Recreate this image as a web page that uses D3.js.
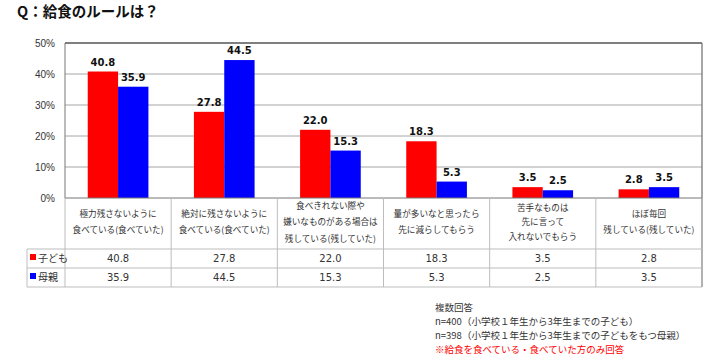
<!DOCTYPE html>
<html>
<head>
<meta charset="utf-8">
<script src="https://cdn.jsdelivr.net/npm/d3@7"></script>
<style>
  body { margin: 0; background: #fff; }
  svg { font-family: "Noto Sans CJK JP", "Noto Sans", sans-serif; }
</style>
</head>
<body>
<div id="chart"></div>
<script>
// chart data
const categories = [
    ["極力残さないように", "食べている(食べていた)"],
    ["絶対に残さないように", "食べている(食べていた)"],
    ["食べきれない際や", "嫌いなものがある場合は", "残している(残していた)"],
    ["量が多いなと思ったら", "先に減らしてもらう"],
    ["苦手なものは", "先に言って", "入れないでもらう"],
    ["ほぼ毎回", "残している(残していた)"]
];
const childValues = [40.8, 27.8, 22.0, 18.3, 3.5, 2.8];
const motherValues = [35.9, 44.5, 15.3, 5.3, 2.5, 3.5];
const seriesNames = ["子ども", "母親"];
const yTicks = [0, 10, 20, 30, 40, 50];
const notes = [
    "複数回答",
    "n=400（小学校１年生から3年生までの子ども）",
    "n=398（小学校１年生から3年生までの子どもをもつ母親）",
    "※給食を食べている・食べていた方のみ回答"
];

const colors = ["#ff0000", "#0000ff"];
const W = 712, H = 363;
const plot = { left: 65, right: 702, top: 43, bottom: 198 };
const table = { left: 27, labelBottom: 249, row1: 268, row2: 287 };

const svg = d3.select("#chart").append("svg")
    .attr("width", W).attr("height", H);

// title
svg.append("text")
    .attr("x", 17).attr("y", 17)
    .attr("font-size", 14.5).attr("font-weight", "bold")
    .attr("fill", "#111")
    .text("Q：給食のルールは？");

// scales
const x = d3.scaleBand()
    .domain(d3.range(categories.length))
    .range([plot.left, plot.right]);
const x1 = d3.scaleBand()
    .domain([0, 1])
    .range([0, x.bandwidth()])
    .paddingOuter(0.75).paddingInner(0);
const y = d3.scaleLinear().domain([0, 50]).range([plot.bottom, plot.top]);

// grid lines
svg.append("g").selectAll("line")
    .data(yTicks.filter(d => d > 0 && d < 50))
    .join("line")
    .attr("x1", plot.left).attr("x2", plot.right)
    .attr("y1", d => y(d)).attr("y2", d => y(d))
    .attr("stroke", "#a6a6a6").attr("stroke-width", 1);

// plot frame
svg.append("line")
    .attr("x1", plot.left).attr("x2", plot.right)
    .attr("y1", y(50)).attr("y2", y(50))
    .attr("stroke", "#555").attr("stroke-width", 1.3);
svg.append("line")
    .attr("x1", plot.right).attr("x2", plot.right)
    .attr("y1", y(50)).attr("y2", table.row2)
    .attr("stroke", "#777").attr("stroke-width", 1.3);
svg.append("line")
    .attr("x1", plot.left).attr("x2", plot.left)
    .attr("y1", y(50)).attr("y2", y(0))
    .attr("stroke", "#777").attr("stroke-width", 1);

// y axis labels
const yAxis = svg.append("g")
    .attr("transform", `translate(${plot.left},0)`)
    .call(d3.axisLeft(y).tickValues(yTicks).tickFormat(d => d + "%").tickSize(0).tickPadding(10));
yAxis.select(".domain").remove();
yAxis.selectAll("text")
    .attr("font-size", 10).attr("fill", "#333")
    .attr("font-family", "Liberation Sans, sans-serif");

// bars
const series = [childValues, motherValues];
series.forEach((vals, s) => {
    svg.append("g").selectAll("rect")
        .data(vals)
        .join("rect")
        .attr("x", (d, i) => x(i) + x1(s))
        .attr("width", x1.bandwidth())
        .attr("y", d => y(d))
        .attr("height", d => y(0) - y(d))
        .attr("fill", colors[s]);
    svg.append("g").selectAll("text")
        .data(vals)
        .join("text")
        .attr("x", (d, i) => x(i) + x1(s) + x1.bandwidth() / 2)
        .attr("y", d => y(d) - 6)
        .attr("text-anchor", "middle")
        .attr("font-size", 10).attr("font-weight", "bold")
        .attr("font-family", "DejaVu Sans, sans-serif")
        .attr("fill", "#111")
        .text(d => d.toFixed(1));
});

// x axis line (0%)
svg.append("line")
    .attr("x1", plot.left).attr("x2", plot.right)
    .attr("y1", y(0)).attr("y2", y(0))
    .attr("stroke", "#777").attr("stroke-width", 1);

// data table
const grid = svg.append("g").attr("stroke", "#bdbdbd").attr("stroke-width", 1);
// vertical separators
d3.range(categories.length + 1).forEach(i => {
    const xx = i < categories.length ? x(i) : plot.right;
    grid.append("line")
        .attr("x1", xx).attr("x2", xx)
        .attr("y1", y(0)).attr("y2", table.row2);
});
[table.labelBottom, table.row1, table.row2].forEach(yy => {
    grid.append("line")
        .attr("x1", table.left).attr("x2", plot.right)
        .attr("y1", yy).attr("y2", yy);
});
grid.append("line")
    .attr("x1", table.left).attr("x2", table.left)
    .attr("y1", table.labelBottom).attr("y2", table.row2);

// category labels
const labelMid = 222;
categories.forEach((lines, i) => {
    const lh = lines.length > 2 && i === 4 ? 14.5 : 16.5;
    const startY = labelMid - (lines.length - 1) * lh / 2 + 3;
    svg.append("g").selectAll("text")
        .data(lines)
        .join("text")
        .attr("x", x(i) + x.bandwidth() / 2)
        .attr("y", (d, j) => startY + j * lh)
        .attr("text-anchor", "middle")
        .attr("font-size", 8.6).attr("fill", "#333")
        .text(d => d);
});

// value rows
const rowTops = [table.labelBottom, table.row1];
const rowBottoms = [table.row1, table.row2];
series.forEach((vals, s) => {
    const cy = (rowTops[s] + rowBottoms[s]) / 2 + 3.5;
    svg.append("rect")
        .attr("x", 30).attr("y", cy - 8)
        .attr("width", 6).attr("height", 6)
        .attr("fill", colors[s]);
    svg.append("text")
        .attr("x", 38).attr("y", cy)
        .attr("font-size", 10).attr("fill", "#333")
        .text(seriesNames[s]);
    svg.append("g").selectAll("text")
        .data(vals)
        .join("text")
        .attr("x", (d, i) => x(i) + x.bandwidth() / 2)
        .attr("y", cy)
        .attr("text-anchor", "middle")
        .attr("font-size", 10).attr("fill", "#333")
        .attr("font-family", "DejaVu Sans, sans-serif")
        .text(d => d.toFixed(1));
});

// notes
svg.append("g").selectAll("text")
    .data(notes)
    .join("text")
    .attr("x", 435)
    .attr("y", (d, i) => 311 + i * 13.9)
    .attr("font-size", 9.5)
    .attr("fill", (d, i) => i === notes.length - 1 ? "#ff0000" : "#333")
    .text(d => d);
</script>
</body>
</html>
